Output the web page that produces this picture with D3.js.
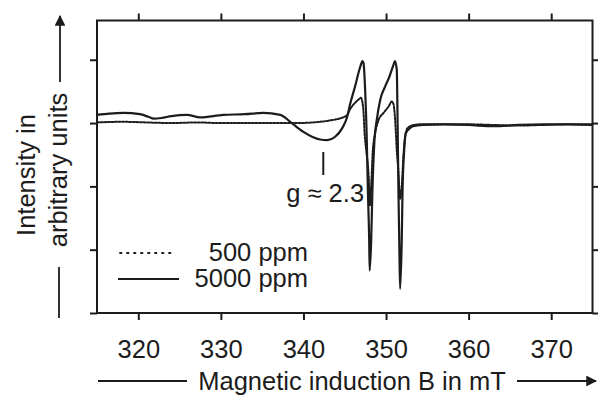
<!DOCTYPE html>
<html>
<head>
<meta charset="utf-8">
<script src="https://cdn.jsdelivr.net/npm/d3@7"></script>
<style>
  html, body { margin: 0; padding: 0; background: #fff; }
  svg { display: block; }
  text { font-family: "Liberation Sans", Arial, Helvetica, sans-serif; fill: #1c1c1c; }
</style>
</head>
<body>
<svg id="chart" width="598" height="396"></svg>
<script>
// EPR spectra: magnetic induction B (mT) vs. intensity (arbitrary units)
const fieldHigh = [315.0, 316.5, 318.2, 320.2, 321.2, 321.9, 322.8, 324.0, 325.9, 327.5, 330.3, 332.9, 335.1, 337.2, 338.4, 340.0, 341.1, 342.0, 342.9, 343.8, 344.7, 345.3, 345.65, 346.25, 346.66, 346.95, 347.14, 347.27, 347.47, 347.67, 347.8, 347.96, 348.02, 348.2, 348.35, 348.6, 348.9, 349.3, 349.9, 350.4, 350.9, 351.08, 351.3, 351.4, 351.5, 351.6, 351.7, 351.9, 352.0, 352.2, 352.4, 352.9, 353.3, 354.5, 357, 360, 363, 366, 369, 372, 375];
const intensityHigh = [0.13, 0.15, 0.16, 0.14, 0.10, 0.07, 0.08, 0.11, 0.13, 0.09, 0.13, 0.14, 0.16, 0.13, 0.02, -0.14, -0.22, -0.26, -0.27, -0.22, -0.08, 0.10, 0.30, 0.58, 0.79, 0.92, 0.98, 0.95, 0.52, -0.27, -1.06, -1.86, -2.33, -1.86, -1.06, -0.27, 0.07, 0.37, 0.58, 0.73, 0.92, 0.98, 0.84, 0.0, -1.06, -1.86, -2.62, -1.86, -1.06, -0.43, -0.16, -0.08, -0.05, -0.03, -0.02, -0.03, -0.05, -0.03, -0.02, -0.02, -0.03];

const fieldLow = [315, 318, 321, 324, 327, 330, 333, 336, 339, 342, 343.6, 344.6, 345.3, 345.65, 346.25, 346.66, 346.95, 347.14, 347.27, 347.4, 347.6, 347.9, 348.05, 348.25, 348.4, 348.7, 349.1, 349.7, 350.3, 350.7, 350.9, 351.1, 351.3, 351.5, 351.7, 351.95, 352.1, 352.3, 352.6, 353.1, 354, 357, 360, 363, 366, 369, 372, 375];
const intensityLow = [0.01, 0.02, 0.01, 0.0, 0.01, 0.0, 0.0, 0.0, 0.0, 0.02, 0.05, 0.08, 0.13, 0.22, 0.32, 0.37, 0.40, 0.33, 0.17, -0.16, -0.43, -0.85, -1.3, -0.85, -0.43, -0.15, 0.05, 0.16, 0.26, 0.34, 0.30, 0.05, -0.43, -0.77, -1.2, -0.9, -0.53, -0.22, -0.08, -0.04, -0.02, -0.02, -0.02, -0.03, -0.04, -0.03, -0.02, -0.02];

const xTicks = [320, 330, 340, 350, 360, 370];
const yTicks = [-3, -2, -1, 0, 1];
const seriesLabels = ["500 ppm", "5000 ppm"];
const gFactorField = 342.4;
const gFactorLabel = "g \u2248 2.3";
const xTitle = "Magnetic induction B in mT";
const yTitle1 = "Intensity in";
const yTitle2 = "arbitrary units";

const ink = "#1c1c1c";
const svg = d3.select("#chart");
const m = { left: 97, top: 20.5, right: 5.5, bottom: 83 };
const W = 598, H = 396;

const x = d3.scaleLinear().domain([315, 375]).range([m.left, W - m.right]);
const y = d3.scaleLinear().domain([-3, 1.62]).range([H - m.bottom, m.top]);

// axes (ticks outward on all four sides)
function styleAxis(g) {
  g.select(".domain").remove();
  g.selectAll(".tick line").attr("stroke", ink).attr("stroke-width", 2);
}
svg.append("g").attr("transform", `translate(0,${y(-3)})`)
  .call(d3.axisBottom(x).tickValues(xTicks).tickSize(7).tickFormat(d3.format("d")))
  .call(styleAxis)
  .call(g => g.selectAll(".tick text").attr("y", 45).attr("dy", 0)
    .attr("font-size", 25.5).attr("fill", ink));
svg.append("g").attr("transform", `translate(0,${m.top})`)
  .call(d3.axisTop(x).tickValues(xTicks).tickSize(7).tickFormat(""))
  .call(styleAxis);
svg.append("g").attr("transform", `translate(${m.left},0)`)
  .call(d3.axisLeft(y).tickValues(yTicks).tickSize(7).tickFormat(""))
  .call(styleAxis);
svg.append("g").attr("transform", `translate(${W - m.right},0)`)
  .call(d3.axisRight(y).tickValues(yTicks).tickSize(7).tickFormat(""))
  .call(styleAxis);

// spectra
const line = d3.line().x(d => x(d[0])).y(d => y(d[1])).curve(d3.curveMonotoneX);
const lowData = fieldLow.map((b, i) => [b, intensityLow[i]]);
const highData = fieldHigh.map((b, i) => [b, intensityHigh[i]]);

svg.append("path").datum(lowData).attr("d", line)
  .attr("fill", "none").attr("stroke", ink).attr("stroke-width", 2)
  .attr("stroke-dasharray", "2 1.6").attr("stroke-linecap", "round");
svg.append("path").datum(highData).attr("d", line)
  .attr("fill", "none").attr("stroke", ink).attr("stroke-width", 2.2)
  .attr("stroke-linejoin", "round");

// plot frame
svg.append("rect").attr("x", m.left).attr("y", m.top)
  .attr("width", W - m.right - m.left).attr("height", y(-3) - m.top)
  .attr("fill", "none").attr("stroke", ink).attr("stroke-width", 2);

// g-factor marker
svg.append("line").attr("x1", x(gFactorField)).attr("x2", x(gFactorField))
  .attr("y1", 152).attr("y2", 175).attr("stroke", ink).attr("stroke-width", 2);
svg.append("text").attr("x", x(gFactorField) - 37).attr("y", 202)
  .attr("font-size", 25.5).text(gFactorLabel);

// legend
const legend = svg.append("g");
legend.append("line").attr("x1", 120).attr("x2", 176).attr("y1", 253).attr("y2", 253)
  .attr("stroke", ink).attr("stroke-width", 1.8).attr("stroke-dasharray", "1.5 5.5")
  .attr("stroke-linecap", "round");
legend.append("line").attr("x1", 118).attr("x2", 179).attr("y1", 279).attr("y2", 279)
  .attr("stroke", ink).attr("stroke-width", 2);
legend.append("text").attr("x", 308).attr("y", 261).attr("text-anchor", "end")
  .attr("font-size", 25.5).text(seriesLabels[0]);
legend.append("text").attr("x", 308).attr("y", 287).attr("text-anchor", "end")
  .attr("font-size", 25.5).text(seriesLabels[1]);

// axis titles with arrows
const defs = svg.append("defs");
defs.append("marker").attr("id", "arrow").attr("viewBox", "0 0 10 10")
  .attr("refX", 9).attr("refY", 5).attr("markerWidth", 6).attr("markerHeight", 6)
  .attr("markerUnits", "strokeWidth").attr("orient", "auto")
  .append("path").attr("d", "M0,0 L10,5 L0,10 Z").attr("fill", ink);

svg.append("text").attr("x", 352).attr("y", 389.5).attr("text-anchor", "middle")
  .attr("font-size", 25.5).text(xTitle);
svg.append("line").attr("x1", 98).attr("x2", 187).attr("y1", 381).attr("y2", 381)
  .attr("stroke", ink).attr("stroke-width", 1.8);
svg.append("line").attr("x1", 517).attr("x2", 596).attr("y1", 381).attr("y2", 381)
  .attr("stroke", ink).attr("stroke-width", 1.8).attr("marker-end", "url(#arrow)");

svg.append("text").attr("transform", "translate(35,175) rotate(-90)")
  .attr("text-anchor", "middle").attr("font-size", 25.5).text(yTitle1);
svg.append("text").attr("transform", "translate(67,170) rotate(-90)")
  .attr("text-anchor", "middle").attr("font-size", 25.5).text(yTitle2);
svg.append("line").attr("x1", 60).attr("x2", 60).attr("y1", 82).attr("y2", 16)
  .attr("stroke", ink).attr("stroke-width", 1.8).attr("marker-end", "url(#arrow)");
svg.append("line").attr("x1", 59).attr("x2", 59).attr("y1", 267).attr("y2", 318)
  .attr("stroke", ink).attr("stroke-width", 1.8);
</script>
</body>
</html>
